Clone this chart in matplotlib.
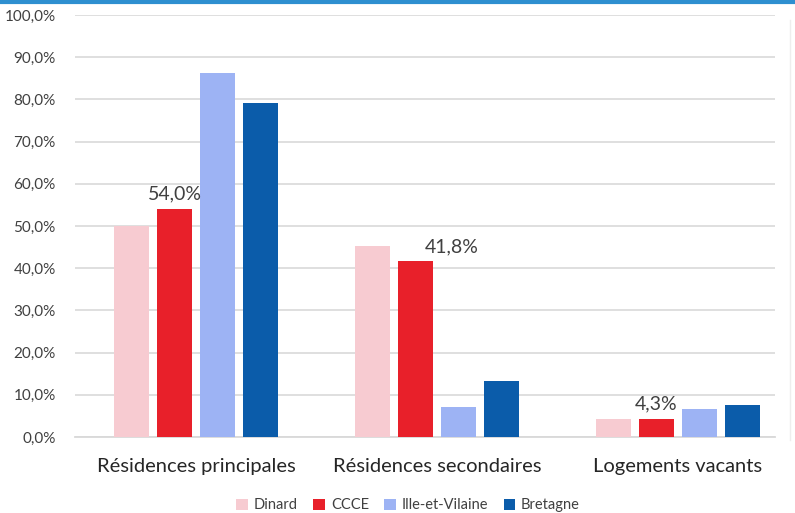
import matplotlib
matplotlib.use("Agg")
import matplotlib.pyplot as plt
import numpy as np
from matplotlib.ticker import FuncFormatter

plt.rcParams["font.family"] = ["Lato", "DejaVu Sans"]

categories = ["Résidences principales", "Résidences secondaires", "Logements vacants"]
series = ["Dinard", "CCCE", "Ille-et-Vilaine", "Bretagne"]
values = {
    "Dinard": [50.0, 45.3, 4.3],
    "CCCE": [54.0, 41.8, 4.3],
    "Ille-et-Vilaine": [86.3, 7.1, 6.6],
    "Bretagne": [79.1, 13.3, 7.6],
}
colors = ["#F7CBD1", "#E8202A", "#9DB3F4", "#0B5CAA"]

fig = plt.figure(figsize=(7.95, 5.13), dpi=100)
ax = fig.add_axes([75 / 795, 1 - 437 / 513, 700 / 795, 422 / 513])

x = np.arange(len(categories))
width = 0.145
pitch = 0.178
for i, (name, color) in enumerate(zip(series, colors)):
    ax.bar(x + (i - 1.5) * pitch, values[name], width, color=color, label=name, zorder=3)

# data labels for CCCE
ccce = values["CCCE"]
label_offsets = [(0.0, 1.5), (0.15, 43.0 - ccce[1]), (0.0, 1.5)]
for j, v in enumerate(ccce):
    dx, dy = label_offsets[j]
    ax.text(x[j] - 0.5 * pitch + dx, v + dy, "{:.1f}%".format(v).replace(".", ","),
            ha="center", va="bottom", fontsize=14, color="#404040")

ax.set_xlim(-0.502, 2.403)
ax.set_ylim(0, 100)
ax.set_yticks(np.arange(0, 101, 10))
ax.yaxis.set_major_formatter(FuncFormatter(lambda v, p: "{:.1f}%".format(v).replace(".", ",")))
ax.yaxis.grid(True, color="#DCDCDC", linewidth=1.3, zorder=0)
ax.set_xticks(x)
ax.set_xticklabels(categories, fontsize=14.5, color="#262626")
ax.tick_params(axis="y", length=0, labelsize=11, labelcolor="#404040", pad=14)
ax.tick_params(axis="x", length=0, pad=15)
for s in ["top", "right", "left"]:
    ax.spines[s].set_visible(False)
ax.spines["bottom"].set_color("#D9D9D9")
ax.spines["bottom"].set_linewidth(1.3)

ax.legend(loc="lower center", bbox_to_anchor=(0.476, -0.21), ncol=4, frameon=False,
          fontsize=10.5, handlelength=0.8, handleheight=0.8, handletextpad=0.4,
          columnspacing=1.05, labelcolor="#404040")

# frame decorations
fig.add_artist(plt.Line2D([0, 1], [1 - 1.5 / 513, 1 - 1.5 / 513], color="#2E8FD0", linewidth=3))
fig.add_artist(plt.Line2D([790 / 795, 790 / 795], [1 - 440 / 513, 1 - 20 / 513], color="#EEEEEE", linewidth=1))

fig.savefig("out.png", dpi=100)
